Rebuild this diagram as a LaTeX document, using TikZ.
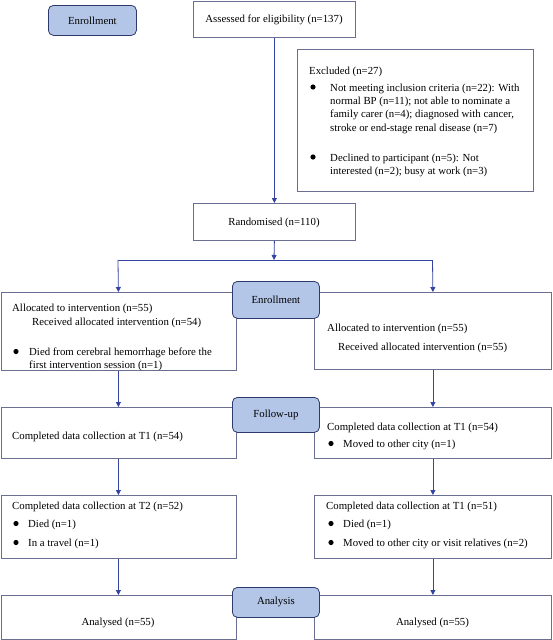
\documentclass[tikz,border=0pt]{standalone}
\usepackage{fontspec}
\setmainfont{Liberation Serif}
\usetikzlibrary{arrows.meta}
\definecolor{boxline}{HTML}{6A6E90}
\definecolor{arrline}{HTML}{3444A0}
\definecolor{lblfill}{HTML}{B4C6E7}
\definecolor{lblline}{HTML}{2E3A6C}
\newcommand{\txtfont}{\fontsize{10.8}{13.3}\selectfont}
\begin{document}
\begin{tikzpicture}[x=1pt,y=-1pt,
  box/.style={draw=boxline, line width=0.8pt, fill=white, inner sep=0, anchor=north west},
  lbl/.style={draw=lblline, line width=0.8pt, fill=lblfill, rounded corners=5pt, inner sep=0, anchor=north west, font=\txtfont, minimum width=87pt},
  txt/.style={anchor=base west, inner sep=0, font=\txtfont},
  ctxt/.style={anchor=base, inner sep=0, font=\txtfont},
  dot/.style={circle, fill=black, inner sep=0, minimum size=5.2pt},
  arr/.style={draw=arrline, line width=0.8pt, -{Triangle[length=5pt,width=5pt]}},
  ln/.style={draw=arrline, line width=0.8pt}]
\useasboundingbox (0,0) rectangle (552,640);
\fill[white] (0,0) rectangle (552,640);

% boxes
\node[lbl, minimum width=88pt, minimum height=30pt] (enr0) at (48,5) {Enrollment};
\node[box, minimum width=162pt, minimum height=36.5pt] (assess) at (193,0.5) {};
\node[box, minimum width=236pt, minimum height=142pt] (excl) at (297,49) {};
\node[box, minimum width=162pt, minimum height=37pt] (rand) at (193,203) {};
\node[box, minimum width=235pt, minimum height=78pt] (a1l) at (0.5,292) {};
\node[box, minimum width=237pt, minimum height=77pt] (a1r) at (314,292) {};
\node[box, minimum width=235pt, minimum height=51pt] (b2l) at (0.5,407) {};
\node[box, minimum width=237pt, minimum height=51pt] (b2r) at (314,407) {};
\node[box, minimum width=235pt, minimum height=63pt] (c3l) at (0.5,495) {};
\node[box, minimum width=237pt, minimum height=63pt] (c3r) at (314,495) {};
\node[box, minimum width=235pt, minimum height=44.3pt] (d4l) at (0.5,595) {};
\node[box, minimum width=237pt, minimum height=44.3pt] (d4r) at (314,595) {};

\node[lbl, minimum height=37pt] (lab1) at (232,281) {Enrollment};
\node[lbl, minimum height=35pt] (lab2) at (232,397) {Follow-up};
\node[lbl, minimum height=30pt] (lab3) at (232,587) {Analysis};

% connectors
\coordinate (split) at (274,260);
\coordinate (splitL) at (118,260);
\coordinate (splitR) at (432.5,260);
\draw[arr] (assess.south) -- (rand.north);
\draw[arr] (rand.south) -- (split);
\draw[ln] (splitL) -- (splitR);
\draw[arr] (splitL) -- (a1l.north);
\draw[arr] (splitR) -- (a1r.north);
\draw[arr] (a1l.south) -- (b2l.north);
\draw[arr] (a1r.south) -- (b2r.north);
\draw[arr] (b2l.south) -- (c3l.north);
\draw[arr] (b2r.south) -- (c3r.north);
\draw[arr] (c3l.south) -- (d4l.north);
\draw[arr] (c3r.south) -- (d4r.north);

% texts
\node[ctxt] (t-assess) at (274,22) {Assessed for eligibility (n=137)};
\node[ctxt] (t-rand) at (274,225) {Randomised (n=110)};

\node[txt] (t-ex0) at (309,74) {Excluded (n=27)};
\node[dot] (d-ex1) at (313,87) {};
\node[txt] (t-ex1) at (330,91) {Not meeting inclusion criteria (n=22): With};
\node[txt] (t-ex2) at (330,104) {normal BP (n=11); not able to nominate a};
\node[txt] (t-ex3) at (330,117) {family carer (n=4); diagnosed with cancer,};
\node[txt] (t-ex4) at (330,131) {stroke or end-stage renal disease (n=7)};
\node[dot] (d-ex5) at (313,157) {};
\node[txt] (t-ex5) at (330,161) {Declined to participant (n=5): Not};
\node[txt] (t-ex6) at (330,174) {interested (n=2); busy at work (n=3)};

\node[txt] (t-a1l1) at (12,311) {Allocated to intervention (n=55)};
\node[txt] (t-a1l2) at (32,325) {Received allocated intervention (n=54)};
\node[dot] (d-a1l3) at (16,351.5) {};
\node[txt] (t-a1l3) at (29,355) {Died from cerebral hemorrhage before the};
\node[txt] (t-a1l4) at (29,368) {first intervention session (n=1)};

\node[txt] (t-a1r1) at (327,331) {Allocated to intervention (n=55)};
\node[txt] (t-a1r2) at (338,350) {Received allocated intervention (n=55)};

\node[txt] (t-b2l) at (12,439) {Completed data collection at T1 (n=54)};
\node[txt] (t-b2r1) at (327,430) {Completed data collection at T1 (n=54)};
\node[dot] (d-b2r2) at (331,443.5) {};
\node[txt] (t-b2r2) at (343,447) {Moved to other city (n=1)};

\node[txt] (t-c3l1) at (12,509) {Completed data collection at T2 (n=52)};
\node[dot] (d-c3l2) at (16,523.5) {};
\node[txt] (t-c3l2) at (28,527) {Died (n=1)};
\node[dot] (d-c3l3) at (16,542.5) {};
\node[txt] (t-c3l3) at (28,546) {In a travel (n=1)};

\node[txt] (t-c3r1) at (326,509) {Completed data collection at T1 (n=51)};
\node[dot] (d-c3r2) at (331,523.5) {};
\node[txt] (t-c3r2) at (343,527) {Died (n=1)};
\node[dot] (d-c3r3) at (331,542.5) {};
\node[txt] (t-c3r3) at (343,546) {Moved to other city or visit relatives (n=2)};

\node[ctxt] (t-d4l) at (118,625) {Analysed (n=55)};
\node[ctxt] (t-d4r) at (432.5,625) {Analysed (n=55)};
\end{tikzpicture}
\end{document}
